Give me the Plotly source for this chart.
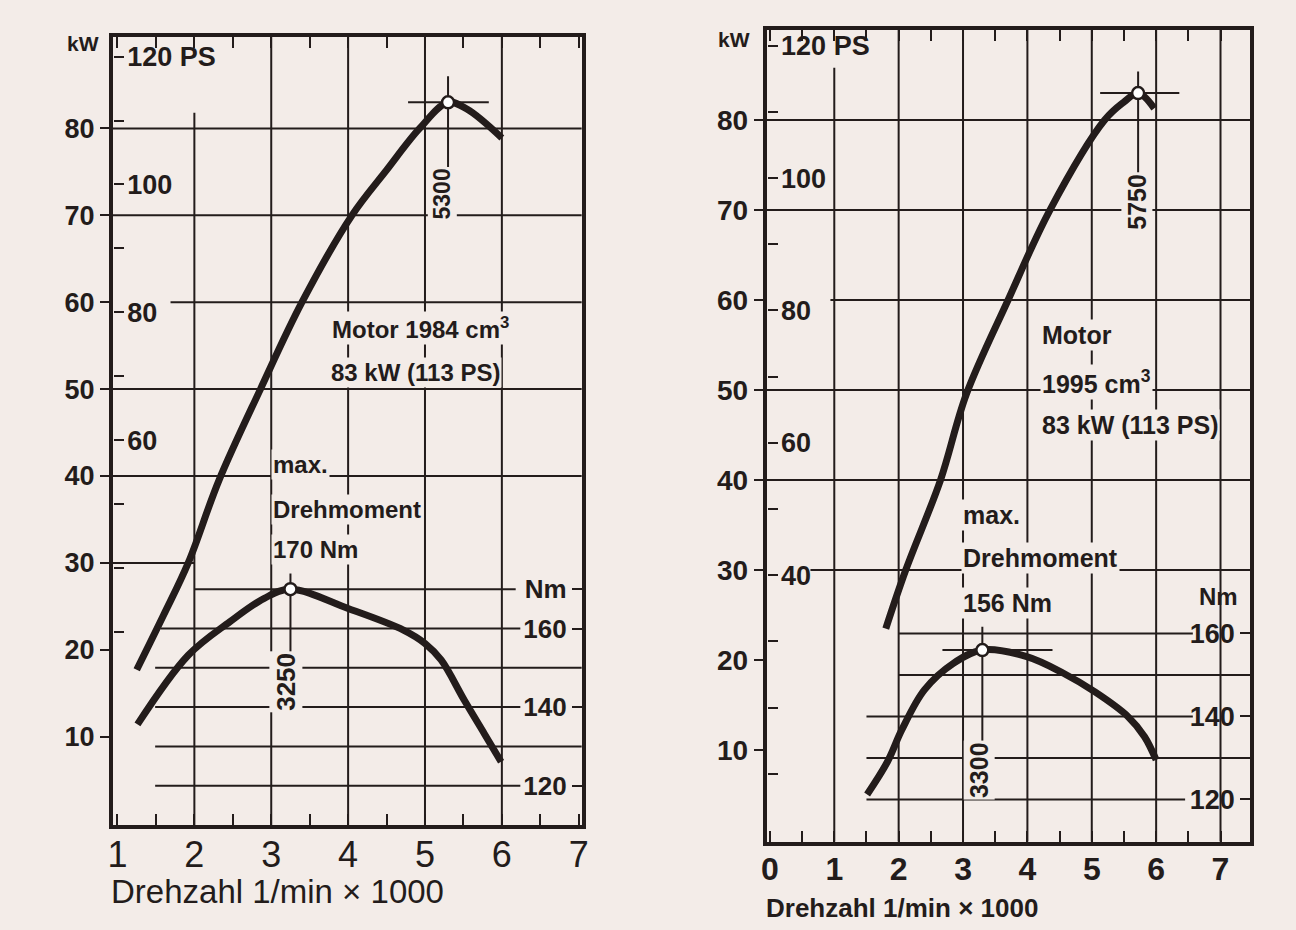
import plotly.graph_objects as go

# Leistungs- und Drehmomentkurven, abgelesen aus dem Diagramm
# links: Motor 1984 cm3, rechts: Motor 1995 cm3
left_power_rpm = [1.25, 1.6, 1.92, 2.32, 2.86, 3.4, 4.05, 4.5, 4.93, 5.3, 5.55, 6.0]
left_power_kw = [17.7, 24.0, 30.0, 39.5, 50.0, 60.0, 70.0, 75.2, 80.0, 83.0, 82.2, 78.9]
left_torque_rpm = [1.26, 1.92, 2.46, 2.91, 3.25, 4.0, 4.72, 5.0, 5.21, 5.51, 5.77, 5.99]
left_torque_nm = [135.6, 153.2, 161.7, 167.7, 170.0, 165.1, 159.6, 156.2, 152.0, 141.8, 133.3, 126.1]

right_power_rpm = [1.8, 2.11, 2.65, 3.05, 3.7, 4.35, 5.2, 5.5, 5.72, 5.97]
right_power_kw = [23.5, 30.0, 40.0, 49.5, 60.0, 70.0, 80.0, 82.0, 83.0, 81.3]
right_torque_rpm = [1.51, 1.83, 2.05, 2.40, 2.85, 3.3, 3.99, 4.56, 5.05, 5.56, 5.82, 6.0]
right_torque_nm = [121.2, 129.2, 136.8, 146.4, 152.8, 156.0, 154.4, 150.4, 145.9, 140.0, 135.1, 129.5]

# Maximalwerte (Drehzahl, Wert)
left_power_peak = (5.3, 83.0)
left_torque_peak = (3.25, 170.0)
right_power_peak = (5.72, 83.0)
right_torque_peak = (3.3, 156.0)

left_rpm_ticks = [1, 2, 3, 4, 5, 6, 7]
right_rpm_ticks = [0, 1, 2, 3, 4, 5, 6, 7]
kw_ticks = [10, 20, 30, 40, 50, 60, 70, 80]
nm_ticks = [120, 140, 160]
ps_labels = {120: "120 PS", 100: "100", 80: "80", 60: "60"}
ps_labels_right = {120: "120 PS", 100: "100", 80: "80", 60: "60", 40: "40"}

KW_PER_PS = 0.7355
INK = "#231c1b"
BG = "#f3ece8"
SANS = "Liberation Sans, Arial, sans-serif"

fig = go.Figure()
shapes = []
annotations = []


def hline(xa, ya, y, x0, x1, w=2):
    shapes.append(dict(type="line", xref=xa, yref=ya, x0=x0, x1=x1, y0=y, y1=y,
                       line=dict(color=INK, width=w), layer="below"))


def vline(xa, ya, x, y0, y1, w=2):
    shapes.append(dict(type="line", xref=xa, yref=ya, x0=x, x1=x, y0=y0, y1=y1,
                       line=dict(color=INK, width=w), layer="below"))


def label(xa, ya, x, y, text, size=24, angle=0, xanchor="left"):
    annotations.append(dict(xref=xa, yref=ya, x=x, y=y, text=text, showarrow=False,
                            xanchor=xanchor, yanchor="middle", textangle=angle,
                            bgcolor=BG, borderpad=1,
                            font=dict(family=SANS, size=size, color=INK, weight="bold")))


def curves(xr, ya_kw, ya_nm, ya_ps, p_rpm, p_kw, t_rpm, t_nm, p_peak, t_peak):
    for xs, ys, ya in [(p_rpm, p_kw, ya_kw), (t_rpm, t_nm, ya_nm)]:
        fig.add_trace(go.Scatter(x=xs, y=ys, mode="lines", xaxis=xr, yaxis=ya,
                                 line=dict(color=INK, width=7, shape="spline", smoothing=1.0),
                                 showlegend=False, hoverinfo="skip"))
    for pk, ya in [(p_peak, ya_kw), (t_peak, ya_nm)]:
        fig.add_trace(go.Scatter(x=[pk[0]], y=[pk[1]], mode="markers", xaxis=xr, yaxis=ya,
                                 marker=dict(symbol="circle", size=12, color="white",
                                             line=dict(color=INK, width=2.5)),
                                 showlegend=False, hoverinfo="skip"))
    # leere Spur, damit die PS-Skala gezeichnet wird
    fig.add_trace(go.Scatter(x=[], y=[], xaxis=xr, yaxis=ya_ps, mode="lines",
                             showlegend=False, hoverinfo="skip"))


# ---------------- linkes Diagramm ----------------
L_DX = [0.0833, 0.4488]
L_DY = [0.1129, 0.9605]
L_X = [0.94, 7.04]
L_KW = [-0.16, 90.55]
L_NM = [110.0, 310.6]

for x in [3, 4, 5, 6]:
    vline("x", "y", x, L_KW[0], L_KW[1])
vline("x", "y", 2, L_KW[0], 81.8)
for y in [80, 70, 50, 40]:
    hline("x", "y", y, L_X[0], L_X[1])
hline("x", "y", 60, 1.69, L_X[1])
hline("x", "y", 30, L_X[0], 2.0)
hline("x", "y2", 170, 2.0, 6.18)
hline("x", "y2", 160, 1.56, 6.24)
hline("x", "y2", 150, 1.49, L_X[1])
hline("x", "y2", 140, 1.49, 6.24)
hline("x", "y2", 130, 1.49, L_X[1])
hline("x", "y2", 120, 1.49, 6.24)
# Markierung der Maxima
hline("x", "y", left_power_peak[1], left_power_peak[0] - 0.52, left_power_peak[0] + 0.53)
vline("x", "y", left_power_peak[0], 75.0, 86.0)
vline("x", "y2", left_torque_peak[0], 139.0, 174.0)

curves("x", "y", "y2", "y3", left_power_rpm, left_power_kw, left_torque_rpm, left_torque_nm,
       left_power_peak, left_torque_peak)

label("x", "y", 3.77, 57.0, "Motor 1984 cm<sup>3</sup>", 24)
label("x", "y", 3.75, 51.9, "83 kW (113 PS)", 24)
label("x", "y", 3.0, 41.3, "max.", 24)
label("x", "y", 3.0, 36.1, "Drehmoment", 24)
label("x", "y", 3.0, 31.5, "170 Nm", 24)
label("x", "y", 5.22, 72.5, "5300", 23, angle=-90, xanchor="center")
label("x", "y2", 3.19, 146.4, "3250", 26, angle=-90, xanchor="center")
annotations.append(dict(xref="x domain", yref="y", x=-0.025, y=89.8, text="kW", showarrow=False,
                        xanchor="right", yanchor="middle",
                        font=dict(family=SANS, size=21, color=INK, weight="bold")))
annotations.append(dict(xref="x domain", yref="paper", x=-0.008, y=1 - 891 / 930,
                        text="Drehzahl 1/min × 1000", showarrow=False, xanchor="left",
                        yanchor="middle", font=dict(family=SANS, size=33, color=INK)))

# ---------------- rechtes Diagramm ----------------
R_DX = [0.5929, 0.9697]
R_DY = [0.0949, 0.9677]
R_X = [-0.05, 7.46]
R_KW = [-0.19, 90.0]
R_NM = [109.8, 305.4]

for x in [2, 3, 4, 5, 6, 7]:
    vline("x2", "y4", x, R_KW[0], R_KW[1])
vline("x2", "y4", 1, R_KW[0], 85.8)
for y in [80, 70, 50, 40]:
    hline("x2", "y4", y, R_X[0], R_X[1])
hline("x2", "y4", 60, 0.94, R_X[1])
hline("x2", "y4", 30, 0.63, R_X[1])
hline("x2", "y5", 160, 2.0, 6.57)
hline("x2", "y5", 150, 2.0, R_X[1])
hline("x2", "y5", 140, 1.5, 6.57)
hline("x2", "y5", 130, 1.5, R_X[1])
hline("x2", "y5", 120, 1.5, 6.45)
hline("x2", "y4", right_power_peak[1], right_power_peak[0] - 0.59, right_power_peak[0] + 0.64)
vline("x2", "y4", right_power_peak[0], 68.0, 85.4)
hline("x2", "y5", right_torque_peak[1], right_torque_peak[0] - 0.62, right_torque_peak[0] + 1.09)
vline("x2", "y5", right_torque_peak[0], 120.0, 161.6)

curves("x2", "y4", "y5", "y6", right_power_rpm, right_power_kw, right_torque_rpm, right_torque_nm,
       right_power_peak, right_torque_peak)

label("x2", "y4", 4.19, 56.1, "Motor", 25)
label("x2", "y4", 4.19, 50.9, "1995 cm<sup>3</sup>", 25)
label("x2", "y4", 4.19, 46.1, "83 kW (113 PS)", 25)
label("x2", "y4", 2.97, 36.1, "max.", 25)
label("x2", "y4", 2.97, 31.3, "Drehmoment", 25)
label("x2", "y4", 2.97, 26.3, "156 Nm", 25)
label("x2", "y4", 5.70, 70.9, "5750", 25, angle=-90, xanchor="center")
label("x2", "y5", 3.25, 127.1, "3300", 25, angle=-90, xanchor="center")
annotations.append(dict(xref="x2 domain", yref="y5", x=0.98, y=168.8, text="Nm", showarrow=False,
                        xanchor="right", yanchor="middle",
                        font=dict(family=SANS, size=24, color=INK, weight="bold")))
annotations.append(dict(xref="x2 domain", yref="y4", x=-0.03, y=88.9, text="kW", showarrow=False,
                        xanchor="right", yanchor="middle",
                        font=dict(family=SANS, size=21, color=INK, weight="bold")))
annotations.append(dict(xref="x2 domain", yref="paper", x=-0.005, y=1 - 908 / 930,
                        text="Drehzahl 1/min × 1000", showarrow=False, xanchor="left",
                        yanchor="middle",
                        font=dict(family=SANS, size=26, color=INK, weight="bold")))


def x_axis(domain, rng, anchor, vals, font, standoff):
    return dict(domain=domain, range=rng, anchor=anchor, tickvals=vals,
                ticks="", showgrid=False, zeroline=False, showline=True, linewidth=4,
                linecolor=INK, mirror="ticks", tickfont=font, ticklabelstandoff=standoff,
                minor=dict(ticks="inside", dtick=0.5, tick0=0.5, ticklen=11, tickwidth=2,
                           tickcolor=INK, showgrid=False))


def kw_axis(domain, rng, anchor, font):
    return dict(domain=domain, range=rng, anchor=anchor, tickvals=kw_ticks, ticks="outside",
                ticklen=9, tickwidth=2, tickcolor=INK, showgrid=False, zeroline=False,
                showline=True, linewidth=4, linecolor=INK, mirror=True, tickfont=font)


# Nm-Skala: linke Seite einer frei platzierten Achse am rechten Rand -> Beschriftung innen
def nm_axis(rng, over, pos, vals, texts, font):
    return dict(range=rng, anchor="free", position=pos, overlaying=over, side="left",
                tickvals=vals, ticktext=texts, ticks="outside", ticklen=10, tickwidth=2,
                tickcolor=INK, showgrid=False, zeroline=False, showline=False, tickfont=font)


# PS-Skala: rechte Seite einer frei platzierten Achse am linken Rand
def ps_axis(kw_rng, over, pos, labels, lowest, font):
    minor_vals = [v for v in range(lowest, 130, 10) if v not in labels]
    return dict(range=[kw_rng[0] / KW_PER_PS, kw_rng[1] / KW_PER_PS], anchor="free",
                position=pos, overlaying=over, side="right",
                tickvals=list(labels.keys()), ticktext=list(labels.values()),
                ticks="outside", ticklen=10, tickwidth=2, tickcolor=INK, ticklabelstandoff=-2,
                minor=dict(tickmode="array", tickvals=minor_vals, ticks="outside",
                           ticklen=10, tickwidth=2, tickcolor=INK, showgrid=False),
                showgrid=False, zeroline=False, showline=False, tickfont=font)


bold = dict(family=SANS, size=27, color=INK, weight="bold")
bold26 = dict(family=SANS, size=26, color=INK, weight="bold")

fig.update_layout(
    width=1296, height=930,
    margin=dict(l=0, r=0, t=0, b=0),
    paper_bgcolor=BG, plot_bgcolor=BG,
    showlegend=False,
    xaxis=x_axis(L_DX, L_X, "y", left_rpm_ticks, dict(family=SANS, size=36, color=INK), -5),
    yaxis=kw_axis(L_DY, L_KW, "x", bold),
    yaxis2=nm_axis(L_NM, "y", L_DX[1], nm_ticks + [170], ["120", "140", "160", "Nm"], bold26),
    yaxis3=ps_axis(L_KW, "y", L_DX[0], ps_labels, 30, bold),
    xaxis2=x_axis(R_DX, R_X, "y4", right_rpm_ticks,
                  dict(family=SANS, size=32, color=INK, weight="bold"), -4),
    yaxis4=kw_axis(R_DY, R_KW, "x2", dict(family=SANS, size=28, color=INK, weight="bold")),
    yaxis5=nm_axis(R_NM, "y4", R_DX[1], nm_ticks, ["120", "140", "160"],
                   dict(family=SANS, size=27, color=INK, weight="bold")),
    yaxis6=ps_axis(R_KW, "y4", R_DX[0], ps_labels_right, 10, bold),
    shapes=shapes,
    annotations=annotations,
)

fig.write_html("out.html", config={"displayModeBar": False},
               post_script="document.body.style.margin='0px';")
